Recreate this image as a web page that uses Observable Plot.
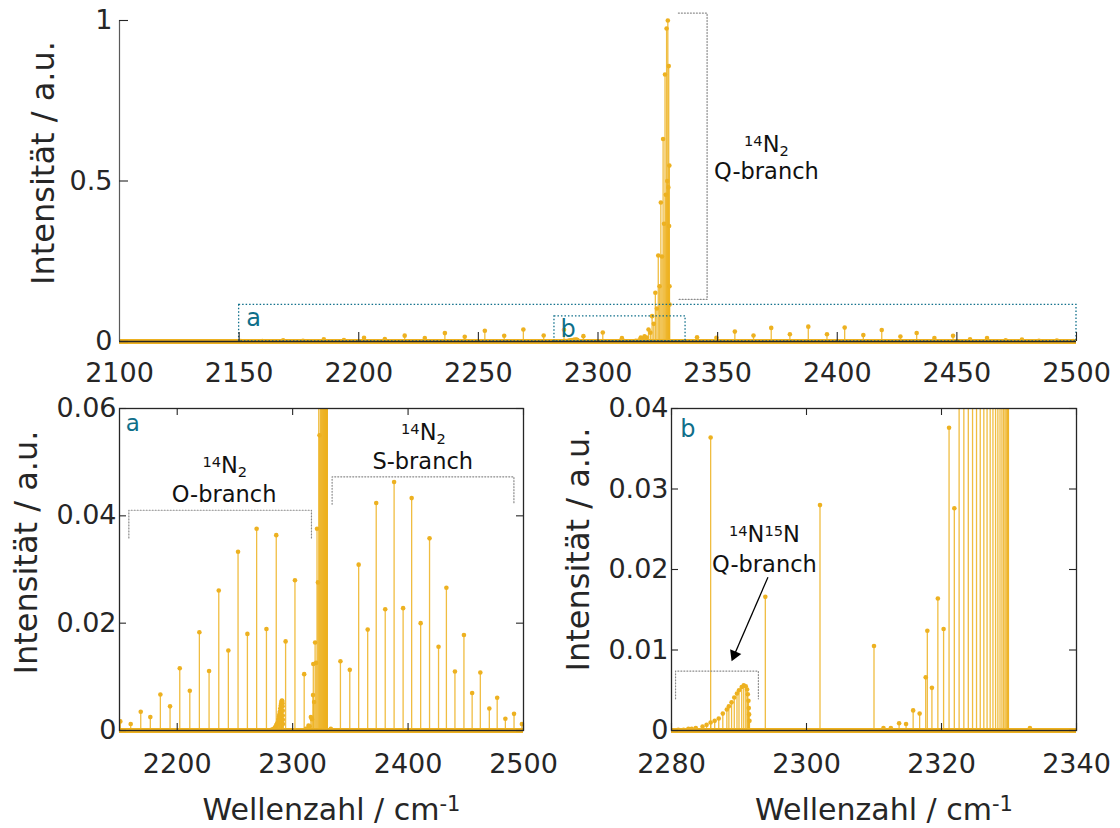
<!DOCTYPE html>
<html>
<head>
<meta charset="utf-8">
<script src="https://cdn.jsdelivr.net/npm/d3@7"></script>
<script src="https://cdn.jsdelivr.net/npm/@observablehq/plot@0.6"></script>
<style>
  html, body { margin: 0; padding: 0; background: #fff; }
  #wrap { position: relative; width: 1120px; height: 828px; overflow: hidden; font-family: "DejaVu Sans", sans-serif; }
  #wrap svg { position: absolute; max-width: none !important; }
</style>
</head>
<body>
<div id="wrap"></div>
<script>
// ---------------- data ----------------
// 14N2 O-branch lines (cm-1, intensity)
const oBranchX = [2317.9, 2310.0, 2302.0, 2293.9, 2285.8, 2277.3, 2268.8, 2260.8, 2252.7, 2244.3, 2236.0,
                  2227.6, 2219.2, 2210.9, 2202.2, 2193.8, 2185.4, 2176.7, 2168.4, 2159.7, 2150.7];
const oBranchH = [0.0124, 0.0105, 0.0280, 0.0166, 0.0364, 0.0189, 0.0376, 0.0180, 0.0333, 0.0149, 0.0261,
                  0.0111, 0.0183, 0.0074, 0.0116, 0.0045, 0.0067, 0.0025, 0.0035, 0.0012, 0.0017];
// 14N2 Q-branch lines
const qBranchX = [2329.92, 2329.88, 2329.82, 2329.71, 2329.57, 2329.40, 2329.19, 2328.95, 2328.67, 2328.35, 2328.01,
                  2327.62, 2327.21, 2326.75, 2326.27, 2325.74, 2325.19, 2324.60, 2323.97, 2323.31, 2322.61,
                  2321.90, 2321.12, 2320.31, 2319.46, 2318.58, 2317.66, 2316.76, 2315.80, 2314.75, 2313.72];
const qBranchH = [0.115, 0.172, 0.548, 0.360, 0.858, 0.480, 1.000, 0.500, 0.975, 0.457, 0.832,
                  0.367, 0.631, 0.265, 0.433, 0.172, 0.268, 0.103, 0.152, 0.055, 0.079,
                  0.0276, 0.0376, 0.0126, 0.0164, 0.0053, 0.0066, 0.0021, 0.0025, 0.0008, 0.0009];
// 14N2 S-branch lines
const sBranchX = [2341.4, 2349.5, 2357.2, 2365.0, 2372.4, 2380.2, 2387.9, 2395.7, 2403.1, 2410.9, 2418.6,
                  2426.4, 2433.2, 2440.6, 2448.4, 2455.5, 2462.6, 2470.4, 2477.2, 2484.3, 2491.8, 2498.6];
const sBranchH = [0.0129, 0.0113, 0.0309, 0.0188, 0.0424, 0.0226, 0.0463, 0.0228, 0.0433, 0.0200, 0.0358,
                  0.0156, 0.0266, 0.0110, 0.0178, 0.0070, 0.0108, 0.0041, 0.0061, 0.0022, 0.0031, 0.0012];
// 14N15N Q-branch lines
const isoX = [2281.0, 2281.8, 2282.5, 2283.0, 2283.6, 2284.6, 2285.2, 2285.8, 2286.4, 2287.0, 2287.6, 2288.2, 2288.5,
              2288.9, 2289.3, 2289.7, 2290.0, 2290.4, 2290.7, 2291.0, 2291.2, 2291.3, 2291.4, 2291.45, 2291.5, 2291.55];
const isoH = [0.0001, 0.0001, 0.0002, 0.0002, 0.0003, 0.0005, 0.0007, 0.0010, 0.0012, 0.0015, 0.0021, 0.0026, 0.0030,
              0.0035, 0.0041, 0.0046, 0.0050, 0.0054, 0.0056, 0.0055, 0.0051, 0.0045, 0.0037, 0.0028, 0.0020, 0.0012];
// other weak lines
const weakX = [2311.4, 2312.5, 2333.1];
const weakH = [0.0003, 0.0003, 0.0003];

// tick values
const topXTicks = [2100, 2150, 2200, 2250, 2300, 2350, 2400, 2450, 2500];
const topYTicks = [0, 0.5, 1];
const aXTicks = [2200, 2300, 2400, 2500];
const aYTicks = [0, 0.02, 0.04, 0.06];
const bXTicks = [2280, 2300, 2320, 2340];
const bYTicks = [0, 0.01, 0.02, 0.03, 0.04];

// ---------------- styling ----------------
const C = "#EDB120", AX = "#262626", TEAL = "#0F6F8A", GRAY = "#8a8a8a";
const FONT = "DejaVu Sans";
const TICKFS = 27, ANNFS = 22.5;

const pair = (xs, hs) => xs.map((x, i) => ({x, h: hs[i]}));
const lines = [...pair(oBranchX, oBranchH), ...pair(qBranchX, qBranchH), ...pair(sBranchX, sBranchH),
               ...pair(isoX, isoH), ...pair(weakX, weakH)];

function stemMarks(clip) {
  return [
    Plot.ruleY([0], {stroke: C, strokeWidth: 5}),
    Plot.ruleX(lines, {x: "x", y1: 0, y2: "h", stroke: C, strokeWidth: 1.3, strokeOpacity: 0.85, clip}),
    Plot.dot(lines, {x: "x", y: "h", r: 2.3, fill: C, clip})
  ];
}

function inTicks(xt, yt, fw, fh, len, sides) {
  const o = {stroke: AX, strokeWidth: 1.1};
  const m = [];
  if (sides.includes("b")) m.push(Plot.tickX(xt, {x: d => d, insetTop: fh - len, ...o}));
  if (sides.includes("t")) m.push(Plot.tickX(xt, {x: d => d, insetBottom: fh - len, ...o}));
  if (sides.includes("l")) m.push(Plot.tickY(yt, {y: d => d, insetRight: fw - len, ...o}));
  if (sides.includes("r")) m.push(Plot.tickY(yt, {y: d => d, insetLeft: fw - len, ...o}));
  return m;
}

function axisLabels(xt, yt, xPad, yPad) {
  return [
    Plot.axisX(xt, {tickSize: 0, tickPadding: xPad, fontSize: TICKFS, color: AX, label: null, tickFormat: d => String(d)}),
    Plot.axisY(yt, {tickSize: 0, tickPadding: yPad, fontSize: TICKFS, color: AX, label: null, tickFormat: d => String(d)})
  ];
}

function ann(x, y, txt, opts = {}) {
  return Plot.text([txt], {x: () => x, y: () => y, text: d => d, fontSize: ANNFS, fill: "#111",
                           dy: -0.32 * (opts.fontSize || ANNFS), ...opts});
}

function yTitle(dx, dy) {
  return Plot.text(["Intensität / a.u."], {text: d => d, frameAnchor: "left", textAnchor: "middle",
    lineAnchor: "middle", rotate: -90, dx, dy, fontSize: 32, fill: AX});
}
function xTitle(dx, dy) {
  return Plot.text(["Wellenzahl / cm-1"], {text: d => d, frameAnchor: "bottom", textAnchor: "middle",
    lineAnchor: "middle", dx, dy, fontSize: 30, fill: AX});
}

function bracketUp(x1, x2, yTop, yLeg) {
  return Plot.line([[x1, yLeg], [x1, yTop], [x2, yTop], [x2, yLeg]],
    {x: d => d[0], y: d => d[1], stroke: GRAY, strokeWidth: 1.2, strokeDasharray: "1,2"});
}

// rich text (super/subscripts) applied to rendered text elements
const SUP = (t, sh) => `<tspan font-size="0.65em" baseline-shift="${sh}px">${t}</tspan>`;
const SUB = (t) => `<tspan font-size="0.65em" baseline-shift="-4px">${t}</tspan>`;
const rich = {
  "14N2": SUP("14", 6) + "N" + SUB("2"),
  "14N15N": SUP("14", 6) + "N" + SUP("15", 6) + "N",
  "Wellenzahl / cm-1": "Wellenzahl / cm" + `<tspan font-size="0.7em" baseline-shift="9px">-1</tspan>`
};
function richify(svg) {
  svg.querySelectorAll("text").forEach(t => {
    const k = t.textContent;
    if (rich[k] && t.children.length === 0) t.innerHTML = rich[k];
  });
}

const wrap = document.getElementById("wrap");
function place(svg, left, top) {
  richify(svg);
  svg.style.left = left + "px";
  svg.style.top = top + "px";
  wrap.appendChild(svg);
}

// ---------------- top panel ----------------
const topPlot = Plot.plot({
  width: 1120, height: 390,
  marginLeft: 119, marginRight: 44, marginTop: 20, marginBottom: 49,
  style: {fontFamily: FONT, background: "transparent", overflow: "visible"},
  x: {domain: [2100, 2500]},
  y: {domain: [0, 1]},
  marks: [
    ...stemMarks(false),
    Plot.rect([{x1: 2150, x2: 2500, y1: 0, y2: 0.114}], {x1: "x1", x2: "x2", y1: "y1", y2: "y2",
      fill: "none", stroke: TEAL, strokeWidth: 1.3, strokeDasharray: "1.5,2"}),
    Plot.rect([{x1: 2281.8, x2: 2336.6, y1: 0, y2: 0.078}], {x1: "x1", x2: "x2", y1: "y1", y2: "y2",
      fill: "none", stroke: TEAL, strokeWidth: 1.3, strokeDasharray: "1.5,2"}),
    Plot.line([[2333.6, 1.023], [2345.6, 1.023], [2345.6, 0.131], [2333.6, 0.131]],
      {x: d => d[0], y: d => d[1], stroke: GRAY, strokeWidth: 1.2, strokeDasharray: "1,2"}),
    ann(2153, 0.0477, "a", {fill: TEAL, textAnchor: "start", fontSize: 24}),
    ann(2284.3, 0.0134, "b", {fill: TEAL, textAnchor: "start", fontSize: 24}),
    ann(2370.4, 0.590, "14N2"),
    ann(2370.4, 0.507, "Q-branch"),
    Plot.ruleX([2100], {stroke: "#5a5a5a", strokeWidth: 1.2}),
    Plot.ruleY([0], {stroke: AX, strokeWidth: 1.3}),
    ...inTicks(topXTicks.slice(1), topYTicks, 957, 321, 9, "bl"),
    ...axisLabels(topXTicks, topYTicks, 21, 7),
    yTitle(-76, -18)
  ]
});
place(topPlot, 0, 0);

// ---------------- panel a ----------------
const aPlot = Plot.plot({
  width: 560, height: 438,
  marginLeft: 119, marginRight: 37, marginTop: 18, marginBottom: 98,
  style: {fontFamily: FONT, background: "transparent", overflow: "visible"},
  x: {domain: [2150, 2500]},
  y: {domain: [0, 0.06]},
  marks: [
    ...stemMarks(true),
    bracketUp(2158.1, 2316.3, 0.04104, 0.03588),
    bracketUp(2334.2, 2491.7, 0.04726, 0.04216),
    ann(2241.2, 0.0479, "14N2"),
    ann(2240.6, 0.0426, "O-branch"),
    ann(2413.3, 0.0541, "14N2"),
    ann(2412.7, 0.0487, "S-branch"),
    ann(2155.5, 0.0558, "a", {fill: TEAL, textAnchor: "start", fontSize: 23}),
    Plot.frame({stroke: AX, strokeWidth: 1.3}),
    ...inTicks(aXTicks, aYTicks, 404, 322, 7, "btlr"),
    ...axisLabels(aXTicks, aYTicks, 23, 3),
    yTitle(-92.5, -17),
    xTitle(10, 80)
  ]
});
place(aPlot, 0, 390);

// ---------------- panel b ----------------
const bPlot = Plot.plot({
  width: 560, height: 438,
  marginLeft: 111, marginRight: 44, marginTop: 18, marginBottom: 98,
  style: {fontFamily: FONT, background: "transparent", overflow: "visible"},
  x: {domain: [2280, 2340]},
  y: {domain: [0, 0.04]},
  marks: [
    ...stemMarks(true),
    bracketUp(2280.6, 2292.87, 0.00738, 0.00394),
    ann(2293.77, 0.0234, "14N15N"),
    ann(2293.77, 0.0197, "Q-branch"),
    Plot.link([{x1: 2294.29, y1: 0.01904, x2: 2289.31, y2: 0.00941}],
      {x1: "x1", y1: "y1", x2: "x2", y2: "y2", stroke: "#000", strokeWidth: 1.3}),
    Plot.dot([{x: 2289.31, y: 0.00941}], {x: "x", y: "y", symbol: "triangle", r: 4.5, fill: "#000", rotate: 203}),
    ann(2281.3, 0.0365, "b", {fill: TEAL, textAnchor: "start", fontSize: 24}),
    Plot.frame({stroke: AX, strokeWidth: 1.3}),
    ...inTicks(bXTicks, bYTicks, 405, 322, 7, "btlr"),
    ...axisLabels(bXTicks, bYTicks, 23, 3),
    yTitle(-92.5, -20),
    xTitle(10, 80)
  ]
});
place(bPlot, 560, 390);
</script>
</body>
</html>
